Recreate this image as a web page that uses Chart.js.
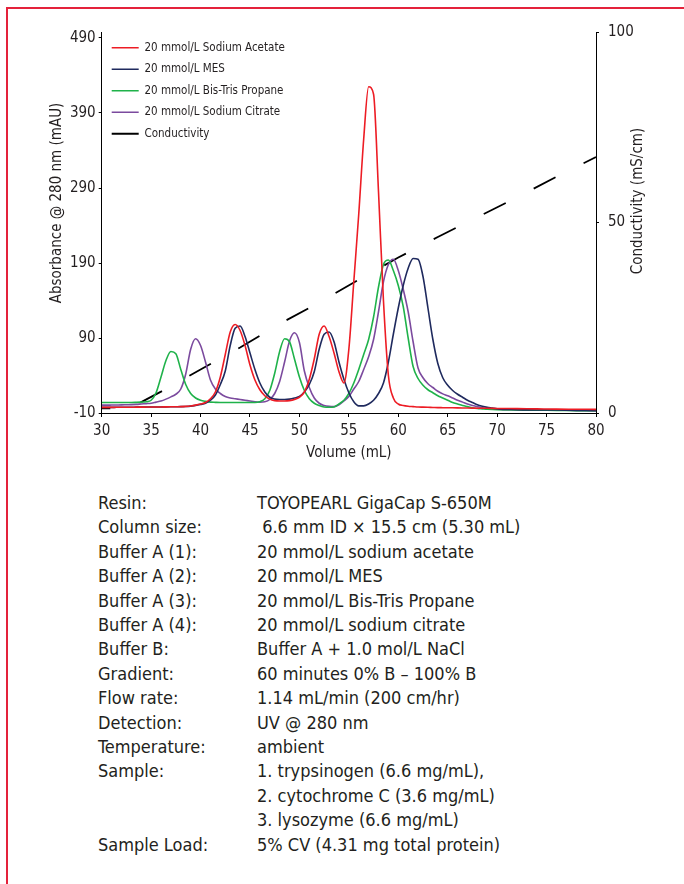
<!DOCTYPE html>
<html>
<head>
<meta charset="utf-8">
<script src="https://cdn.jsdelivr.net/npm/chart.js@4.4.1/dist/chart.umd.min.js"></script>
<style>
    html, body { margin: 0; padding: 0; background: #fff; }
    body { width: 684px; height: 884px; position: relative; overflow: hidden;
           font-family: 'Liberation Sans Narrow', 'DejaVu Sans Condensed', sans-serif; color: #231f20; }
    .frame { position: absolute; left: 6px; top: 7px; width: 700px; height: 900px;
             border-top: 2.5px solid #e4223b; border-left: 2.5px solid #e4223b; }
    .chart-box { position: absolute; left: 0; top: 0; width: 684px; height: 470px; }
    .conditions { position: absolute; left: 98px; top: 491px; font-size: 18px; line-height: 24.4px; }
    .conditions .row { display: flex; white-space: pre; }
    .conditions .lbl { width: 159px; }
</style>
</head>
<body>
<div class="frame"></div>
<div class="chart-box"><canvas id="chart"></canvas></div>
<div class="conditions" id="conditions"></div>

<script>
// Elution volume (mL), shared by the four absorbance traces
const volume = [
    30, 30.5, 31, 31.5, 32, 32.5, 33, 33.5, 34, 34.5,
    35, 35.5, 36, 36.5, 37, 37.5, 38, 38.5, 39, 39.5,
    40, 40.5, 41, 41.5, 42, 42.5, 43, 43.5, 44, 44.5,
    45, 45.5, 46, 46.5, 47, 47.5, 48, 48.5, 49, 49.5,
    50, 50.5, 51, 51.5, 52, 52.5, 53, 53.5, 54, 54.5,
    55, 55.5, 56, 56.5, 57, 57.5, 58, 58.5, 59, 59.5,
    60, 60.5, 61, 61.5, 62, 62.5, 63, 63.5, 64, 64.5,
    65, 65.5, 66, 66.5, 67, 67.5, 68, 68.5, 69, 69.5,
    70, 72, 74, 76, 78, 80
];

// Absorbance @ 280 nm (mAU)
const sodiumAcetate = [
    -2.5, -2.5, -2.5, -2.4, -2.4, -2.3, -2.3, -2.2, -2.2, -2.1,
    -2.0, -2.0, -1.9, -1.8, -1.7, -1.6, -1.5, -1.2, -0.6, 0.5,
    2, 4, 9, 18, 38, 68, 98, 108, 100, 80,
    54, 34, 21, 13, 8.5, 6.5, 6, 6, 6.5, 8,
    11, 18, 35, 62, 95, 106, 92, 70, 45, 30,
    75, 165, 255, 355, 425, 415, 285, 140, 40, 10,
    2, 0, -1, -1.5, -2, -2.2, -2.4, -2.6, -2.8, -2.9,
    -3, -3.1, -3.2, -3.3, -3.4, -3.5, -3.6, -3.6, -3.7, -3.8,
    -3.9, -4.2, -4.5, -4.8, -5, -5.2
];
const mes = [
    -2.5, -2.5, -2.5, -2.4, -2.4, -2.3, -2.3, -2.2, -2.2, -2.1,
    -2.0, -2.0, -1.9, -1.8, -1.7, -1.6, -1.5, -1.3, -0.8, 0.2,
    1.5, 3, 7, 14, 28, 46, 80, 103, 106, 92,
    70, 48, 30, 18, 11, 8.5, 8, 8, 8.5, 10,
    12, 18, 28, 45, 75, 95, 98, 85, 58, 35,
    17, 5, -0.5, -0.5, 2, 7, 16, 30, 58, 95,
    130, 160, 183, 196, 195, 172, 130, 88, 56, 37,
    27, 20, 15, 11, 7, 4, 1, -1, -2.5, -3.5,
    -4.5, -5.5, -6, -6, -6.5, -7
];
const bisTrisPropane = [
    4, 4, 4, 4, 4, 4, 4, 4.2, 4.5, 5,
    7, 17, 38, 60, 72, 69, 48, 28, 16, 10,
    7, 5.5, 4.5, 4.2, 4, 4, 4, 4, 4, 4,
    4, 4, 5, 9, 20, 43, 72, 89, 85, 62,
    38, 20, 9, 3, 0, -2, -2.4, -2, 2, 7,
    16, 30, 48, 68, 88, 118, 158, 188, 194, 180,
    160, 132, 90, 52, 36, 27, 21, 17, 13, 10,
    7, 4, 2, 0, -1.5, -3, -4, -4.5, -5, -5.3,
    -5.5, -6, -6.3, -6.5, -6.8, -7
];
const sodiumCitrate = [
    0.5, 0.5, 0.6, 0.7, 0.8, 1, 1.2, 1.5, 2, 2.5,
    3, 4.5, 6, 8.5, 11.5, 15, 22, 42, 75, 89,
    80, 58, 34, 22, 16, 12, 10, 9, 8, 7,
    6, 5, 4.5, 5, 8, 16, 32, 58, 86, 97,
    84, 46, 24, 10, 3, 0, -1.2, -1.5, 1, 6,
    12, 22, 32, 48, 65, 88, 125, 165, 188, 195,
    180, 155, 125, 85, 50, 37, 29, 24, 19, 15.5,
    13, 10, 7, 4.5, 2, 0, -1.5, -3, -4, -4.5,
    -5, -5.5, -6, -6.3, -6.6, -7
];

// Conductivity (mS/cm)
const condVolume = [30, 32.8, 36, 40, 44, 48, 52, 56, 60, 64, 68, 72, 76, 80];
const conductivity = [1.2, 1.2, 5.6, 11.4, 17.2, 23.4, 29.0, 35.0, 40.8, 46.2, 51.4, 56.6, 62.0, 67.2];

// Axis ticks
const volumeTicks = [30, 35, 40, 45, 50, 55, 60, 65, 70, 75, 80];
const absTicks = [-10, 90, 190, 290, 390, 490];
const condTicks = [0, 50, 100];

// Run conditions below the chart
const conditionLabels = [
    'Resin:', 'Column size:', 'Buffer A (1):', 'Buffer A (2):', 'Buffer A (3):', 'Buffer A (4):',
    'Buffer B:', 'Gradient:', 'Flow rate:', 'Detection:', 'Temperature:', 'Sample:', '', '', 'Sample Load:'
];
const conditionValues = [
    'TOYOPEARL GigaCap S-650M',
    ' 6.6 mm ID \u00d7 15.5 cm (5.30 mL)',
    '20 mmol/L sodium acetate',
    '20 mmol/L MES',
    '20 mmol/L Bis-Tris Propane',
    '20 mmol/L sodium citrate',
    'Buffer A + 1.0 mol/L NaCl',
    '60 minutes 0% B \u2013 100% B',
    '1.14 mL/min (200 cm/hr)',
    'UV @ 280 nm',
    'ambient',
    '1. trypsinogen (6.6 mg/mL),',
    '2. cytochrome C (3.6 mg/mL)',
    '3. lysozyme (6.6 mg/mL)',
    '5% CV (4.31 mg total protein)'
];

const FONT = "'Liberation Sans Narrow', 'DejaVu Sans Condensed', sans-serif";
const INK = '#231f20';

function toPoints(xs, ys) {
    return xs.map((x, i) => ({ x: x, y: ys[i] }));
}

function trace(label, values, color) {
    return {
        label: label,
        data: toPoints(volume, values),
        borderColor: color,
        backgroundColor: color,
        borderWidth: 1.6,
        pointRadius: 0,
        cubicInterpolationMode: 'monotone',
        yAxisID: 'y'
    };
}

// Rotated axis titles for the two vertical axes
const sideTitles = {
    id: 'sideTitles',
    afterDraw(chart) {
        const ctx = chart.ctx;
        ctx.save();
        ctx.font = '15px ' + FONT;
        ctx.fillStyle = INK;
        ctx.textAlign = 'center';
        ctx.textBaseline = 'middle';
        [['Absorbance @ 280 nm (mAU)', 57.5, 203], ['Conductivity (mS/cm)', 638, 201]].forEach(([text, x, y]) => {
            ctx.save();
            ctx.translate(x, y);
            ctx.rotate(-Math.PI / 2);
            ctx.fillText(text, 0, 0);
            ctx.restore();
        });
        ctx.restore();
    }
};

// A chartArea legend is laid out from the canvas top; pin it to the plot top
const legendInPlot = {
    id: 'legendInPlot',
    afterLayout(chart) {
        const lg = chart.legend;
        if (!lg) return;
        const h = lg.bottom - lg.top;
        lg.top = chart.chartArea.top;
        lg.bottom = lg.top + h;
    }
};

function initChart() {
    const tickFont = { family: FONT, size: 15 };
    const axisGrid = { display: true, drawOnChartArea: false, drawTicks: true, tickLength: 4, color: '#000' };
    const axisBorder = { display: true, color: '#000', width: 1 };

    new Chart(document.getElementById('chart'), {
        type: 'line',
        data: {
            datasets: [
                trace('20 mmol/L Sodium Acetate', sodiumAcetate, '#ed1c24'),
                trace('20 mmol/L MES', mes, '#1f2a5e'),
                trace('20 mmol/L Bis-Tris Propane', bisTrisPropane, '#1fb24a'),
                trace('20 mmol/L Sodium Citrate', sodiumCitrate, '#7b4a9e'),
                {
                    label: 'Conductivity',
                    data: toPoints(condVolume, conductivity),
                    borderColor: '#000',
                    backgroundColor: '#000',
                    borderWidth: 1.8,
                    borderDash: [24.6, 31.4],
                    borderDashOffset: 16,
                    pointRadius: 0,
                    tension: 0,
                    yAxisID: 'y2'
                }
            ]
        },
        options: {
            responsive: true,
            maintainAspectRatio: false,
            animation: false,
            layout: { padding: { top: 32, left: 0, right: 0, bottom: 0 } },
            scales: {
                x: {
                    type: 'linear',
                    min: 30,
                    max: 80,
                    afterBuildTicks: s => { s.ticks = volumeTicks.map(v => ({ value: v })); },
                    afterFit: s => { s.height = 57; },
                    grid: axisGrid,
                    border: axisBorder,
                    ticks: { font: tickFont, color: INK, padding: 5, maxRotation: 0 },
                    title: {
                        display: true, text: 'Volume (mL)', color: INK,
                        font: { family: FONT, size: 15 }, padding: { top: 0, bottom: 8 }
                    }
                },
                y: {
                    position: 'left',
                    min: -10,
                    max: 498,
                    afterBuildTicks: s => { s.ticks = absTicks.map(v => ({ value: v })); },
                    afterFit: s => { s.width = 101.7; },
                    grid: { ...axisGrid, tickLength: 3 },
                    border: axisBorder,
                    ticks: { font: tickFont, color: INK, padding: 3 }
                },
                y2: {
                    position: 'right',
                    min: 0,
                    max: 100,
                    afterBuildTicks: s => { s.ticks = condTicks.map(v => ({ value: v })); },
                    afterFit: s => { s.width = 88; },
                    grid: { ...axisGrid, tickLength: 3 },
                    border: axisBorder,
                    ticks: { font: tickFont, color: INK, padding: 9 }
                }
            },
            plugins: {
                legend: {
                    position: 'chartArea',
                    align: 'start',
                    labels: {
                        usePointStyle: true,
                        pointStyle: 'line',
                        pointStyleWidth: 27,
                        boxWidth: 27,
                        padding: 10,
                        color: INK,
                        font: { family: FONT, size: 11.5 },
                        generateLabels: chart =>
                            Chart.defaults.plugins.legend.labels.generateLabels(chart)
                                .map(item => ({ ...item, lineDash: [] }))
                    }
                },
                tooltip: { enabled: false }
            }
        },
        plugins: [sideTitles, legendInPlot]
    });
}

function renderConditions() {
    const box = document.getElementById('conditions');
    box.innerHTML = conditionLabels.map((lbl, i) => `
        <div class="row"><span class="lbl">${lbl}</span><span>${conditionValues[i]}</span></div>
    `).join('');
}

renderConditions();
initChart();
</script>
</body>
</html>
